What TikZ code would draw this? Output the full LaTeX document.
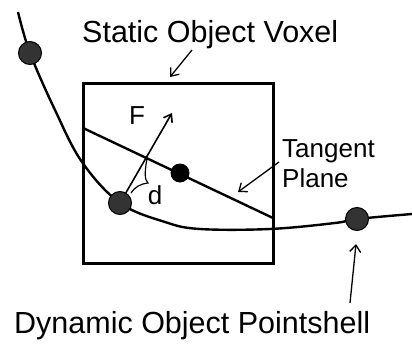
\documentclass[tikz,border=0pt]{standalone}
\usepackage{fontspec}
\setmainfont{Liberation Sans}
\usetikzlibrary{arrows.meta}
\begin{document}
\begin{tikzpicture}[x=1pt, y=-1pt, line width=2.4pt,
    shelldot/.style={circle, draw=black, line width=1pt, fill=black!80, inner sep=0pt, minimum size=23pt},
    planedot/.style={circle, fill=black, inner sep=0pt, minimum size=19pt},
    callout/.style={line width=1.3pt, -{Straight Barb[length=7pt, width=11pt]}},
    bigtext/.style={font=\fontsize{30.5}{36}\selectfont, anchor=base west, inner sep=0pt},
    smalltext/.style={font=\fontsize{26}{30}\selectfont, inner sep=0pt}]
    \useasboundingbox (0,0) rectangle (412,345);
    \draw [line width=3pt] (83,83) rectangle (273,263);
    \coordinate (c1) at (30,53);
    \coordinate (c2) at (120,203);
    \coordinate (c3) at (357,219);
    \coordinate (cq) at (180,173);
    \coordinate (tl) at (83,128);
    \coordinate (tr) at (273,218);
    \draw (tl) -- (tr);
    \draw plot [smooth, tension=0.6] coordinates {(18,12) (c1) (55,110) (82,162) (c2) (165,222) (200,229) (270,229) (335,223) (c3) (412,214)};
    % force and distance
    \coordinate (ftip) at (172,113);
    \coordinate (foot) at (147,158);
    \draw [line width=1.6pt, -{Straight Barb[length=7pt, width=10pt]}] (c2) -- (ftip);
    \draw [line width=1.2pt] (foot) .. controls (145,170) and (144,180) .. (148,183) .. controls (140,184) and (135,187) .. (131,193);
    \node [shelldot] (p1) at (c1) {};
    \node [shelldot] (p2) at (c2) {};
    \node [shelldot] (p3) at (c3) {};
    \node [planedot] (q) at (cq) {};
    \node [smalltext] (f) at (137,116) {F};
    \node [smalltext] (d) at (155,195) {d};
    % labels
    \node [bigtext] (voxel) at (81,43) {Static Object Voxel};
    \node [smalltext, anchor=base west] (tangent) at (281,157) {Tangent};
    \node [smalltext, anchor=base west] (plane) at (281,187) {Plane};
    \node [bigtext] (shell) at (13,333) {Dynamic Object Pointshell};
    \coordinate (a1) at (192,50);
    \coordinate (a2) at (170,77);
    \coordinate (b1) at (279,162);
    \coordinate (b2) at (238,192);
    \coordinate (e1) at (350,303);
    \coordinate (e2) at (356,244);
    \draw [callout] (a1) -- (a2);
    \draw [callout] (b1) -- (b2);
    \draw [callout] (e1) -- (e2);
\end{tikzpicture}
\end{document}
